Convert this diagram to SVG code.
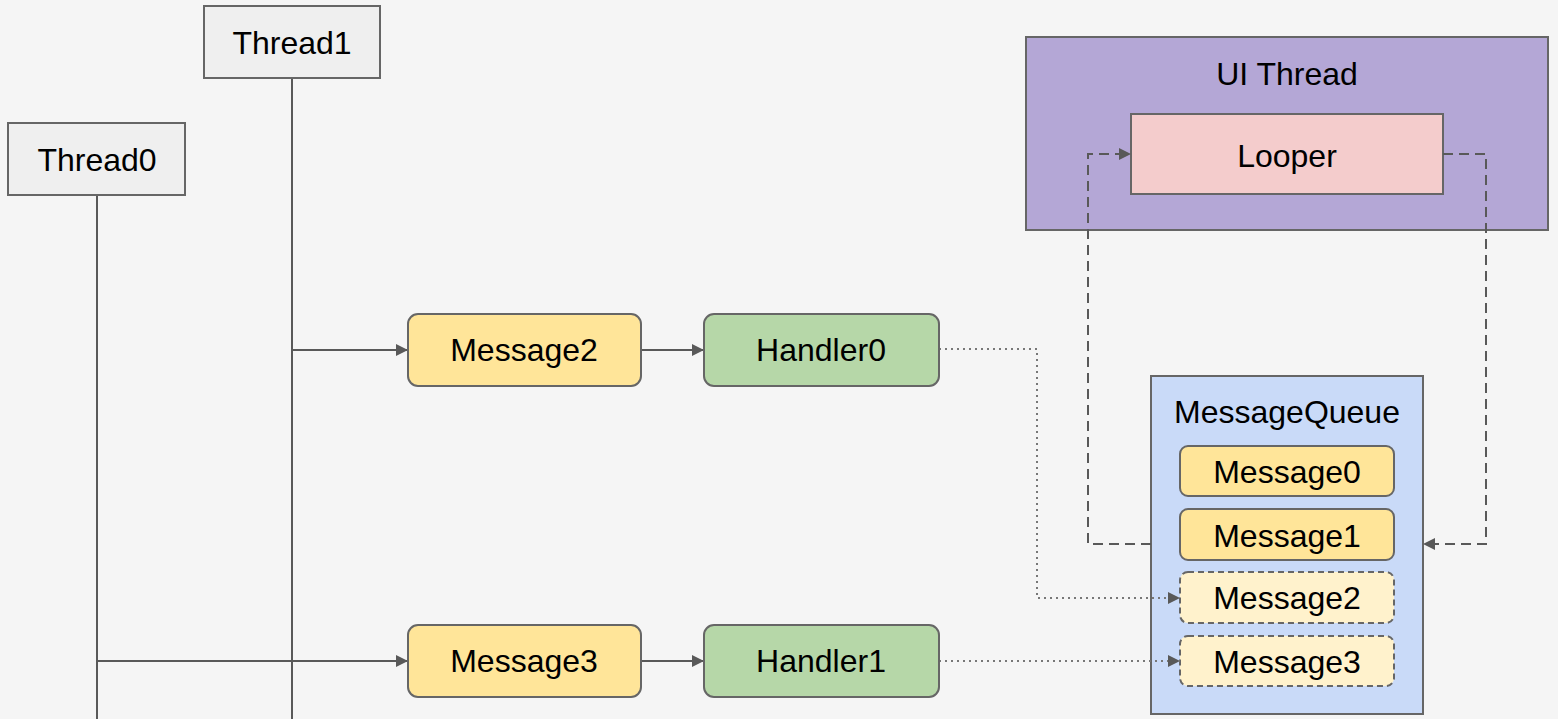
<svg xmlns="http://www.w3.org/2000/svg" width="1558" height="719" viewBox="0 0 1558 719">
<style>
text{font-family:"Liberation Sans",Arial,sans-serif;font-size:32px;fill:#000;text-anchor:middle}
.thread{fill:#efefef;stroke:#666;stroke-width:2}
.msg{fill:#ffe599;stroke:#666;stroke-width:2}
.msgd{fill:#fff2cc;stroke:#666;stroke-width:2;stroke-dasharray:6 4}
.hdl{fill:#b6d7a8;stroke:#666;stroke-width:2}
.life{stroke:#595959;stroke-width:2;fill:none}
.solid{stroke:#595959;stroke-width:2;fill:none}
.dash{stroke:#595959;stroke-width:2;fill:none;stroke-dasharray:10 6}
.dot{stroke:#777;stroke-width:2;fill:none;stroke-dasharray:2 4}
</style>
<defs>
<marker id="ah" viewBox="0 0 10 10" refX="10" refY="5" markerUnits="userSpaceOnUse" markerWidth="13" markerHeight="12" orient="auto">
<path d="M0,0 L10,5 L0,10 z" fill="#595959"/>
</marker>
</defs>
<rect width="1558" height="719" fill="#f5f5f5"/>

<g id="ui-thread">
<rect x="1026" y="37" width="522" height="193" fill="#b4a7d6" stroke="#666" stroke-width="2"/>
<text x="1287" y="85">UI Thread</text>
</g>
<g id="looper">
<rect x="1131" y="114" width="312" height="80" fill="#f4cccc" stroke="#666" stroke-width="2"/>
<text x="1287" y="167">Looper</text>
</g>
<g id="messagequeue">
<rect x="1151" y="376" width="272" height="338" fill="#c9daf8" stroke="#666" stroke-width="2"/>
<text x="1287" y="423">MessageQueue</text>
</g>
<g id="q-message0">
<rect class="msg" x="1180" y="446" width="214" height="50" rx="8"/>
<text x="1287" y="483">Message0</text>
</g>
<g id="q-message1">
<rect class="msg" x="1180" y="509" width="214" height="51" rx="8"/>
<text x="1287" y="547">Message1</text>
</g>
<g id="q-message2">
<rect class="msgd" x="1180" y="572" width="214" height="51" rx="8"/>
<text x="1287" y="609">Message2</text>
</g>
<g id="q-message3">
<rect class="msgd" x="1180" y="636" width="214" height="50" rx="8"/>
<text x="1287" y="673">Message3</text>
</g>

<g id="connectors">
<line class="life" x1="292" y1="78" x2="292" y2="719"/>
<line class="life" x1="97" y1="195" x2="97" y2="719"/>
<line class="solid" x1="292" y1="350" x2="408" y2="350" marker-end="url(#ah)"/>
<line class="solid" x1="97" y1="661" x2="408" y2="661" marker-end="url(#ah)"/>
<line class="solid" x1="641" y1="350" x2="704" y2="350" marker-end="url(#ah)"/>
<line class="solid" x1="641" y1="661" x2="704" y2="661" marker-end="url(#ah)"/>
<polyline class="dot" points="939,349 1037,349 1037,598 1180,598" marker-end="url(#ah)"/>
<line class="dot" x1="939" y1="661" x2="1180" y2="661" marker-end="url(#ah)"/>
<polyline class="dash" points="1151,544 1088,544 1088,154 1131,154" marker-end="url(#ah)"/>
<polyline class="dash" points="1443,154 1486,154 1486,544 1423,544" marker-end="url(#ah)"/>
</g>

<g id="thread1">
<rect class="thread" x="204" y="6" width="176" height="72"/>
<text x="292" y="54">Thread1</text>
</g>
<g id="thread0">
<rect class="thread" x="8" y="123" width="177" height="72"/>
<text x="97" y="171">Thread0</text>
</g>
<g id="message2">
<rect class="msg" x="408" y="314" width="233" height="72" rx="10"/>
<text x="524" y="361">Message2</text>
</g>
<g id="handler0">
<rect class="hdl" x="704" y="314" width="235" height="72" rx="10"/>
<text x="821" y="361">Handler0</text>
</g>
<g id="message3">
<rect class="msg" x="408" y="625" width="233" height="72" rx="10"/>
<text x="524" y="672">Message3</text>
</g>
<g id="handler1">
<rect class="hdl" x="704" y="625" width="235" height="72" rx="10"/>
<text x="821" y="672">Handler1</text>
</g>
</svg>
